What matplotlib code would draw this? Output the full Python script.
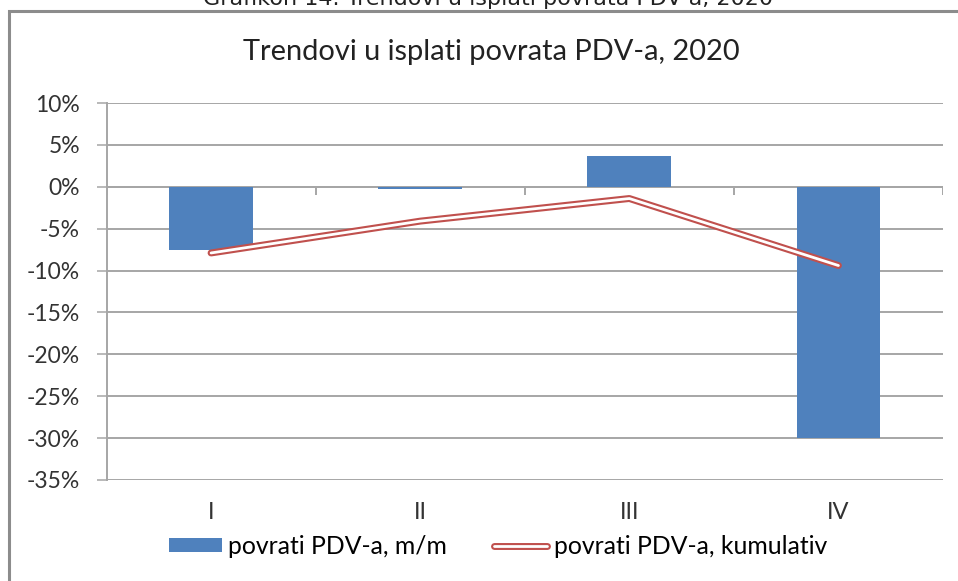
import numpy as np
import matplotlib.pyplot as plt
import matplotlib.patheffects as pe
from matplotlib.patches import Rectangle

# data
quarters = ['I', 'II', 'III', 'IV']
mm_change = [-7.6, -0.25, 3.7, -30.0]       # povrati PDV-a, m/m (%)
cumulative = [-7.9, -4.1, -1.4, -9.4]       # povrati PDV-a, kumulativ (%)
yticks = [10, 5, 0, -5, -10, -15, -20, -25, -30, -35]
ytick_labels = ['10%', '5%', '0%', '-5%', '-10%', '-15%', '-20%', '-25%', '-30%', '-35%']

plt.rcParams['font.family'] = ['Lato', 'DejaVu Sans']

fig = plt.figure(figsize=(9.58, 5.81), dpi=100)
ax = fig.add_axes([106.5 / 958, 1 - 480 / 581, (943 - 106.5) / 958, (480 - 103) / 581])

x = np.arange(len(quarters))
grid_c = '#a6a6a6'

ax.set_ylim(-35, 10)
ax.set_xlim(-0.5, 3.5)
ax.set_yticks(yticks)
ax.set_yticklabels(ytick_labels, fontsize=16.5, color='#333333')
for yv in yticks:
    ax.axhline(yv, color=grid_c, lw=1.4, zorder=0)

bars = ax.bar(x, mm_change, width=0.4, color='#4f81bd', zorder=2, label='povrati PDV-a, m/m')
line, = ax.plot(x, cumulative, color='white', lw=2.0, zorder=3, solid_capstyle='round',
                label='povrati PDV-a, kumulativ',
                path_effects=[pe.Stroke(linewidth=5.0, foreground='#c0504d', capstyle='round'),
                              pe.Normal()])

# category axis at zero with boundary ticks
ax.axhline(0, color=grid_c, lw=1.4, zorder=1)
ax.vlines(np.arange(len(quarters) + 1) - 0.5, -1.0, 0, color=grid_c, lw=1.4, zorder=1)

ax.set_xticks(x)
ax.set_xticklabels(quarters, fontsize=17, color='#333333')
ax.tick_params(axis='x', length=0, pad=16)
ax.tick_params(axis='y', length=7, color=grid_c, width=1.1, pad=12)
for s in ['top', 'right', 'bottom']:
    ax.spines[s].set_visible(False)
ax.spines['left'].set_color(grid_c)
ax.spines['left'].set_linewidth(1.4)

fig.text(491 / 958, 1 - 52 / 581, 'Trendovi u isplati povrata PDV-a, 2020',
         ha='center', va='center', fontsize=20.9, color='#222222')

# caption above the chart frame, cut by the top edge as in the source
fig.text(488 / 958, 1 - 5 / 581, 'Grafikon 14. Trendovi u isplati povrata PDV-a, 2020',
         ha='center', va='baseline', fontsize=16, family='DejaVu Sans', color='#222222')

fig.add_artist(Rectangle((9 / 958, -0.05), 1.0, 1.05 - 11 / 581, transform=fig.transFigure,
                         fill=False, edgecolor='#8c8c8c', lw=2.2))

fig.legend([bars, line], ['povrati PDV-a, m/m', 'povrati PDV-a, kumulativ'],
           loc='center', bbox_to_anchor=(498 / 958, 1 - 546 / 581), ncol=2, frameon=False,
           fontsize=17.8, handlelength=2.15, handleheight=0.5, handletextpad=0.25,
           columnspacing=1.9, borderpad=0.2)

fig.savefig('out.png', dpi=100)
